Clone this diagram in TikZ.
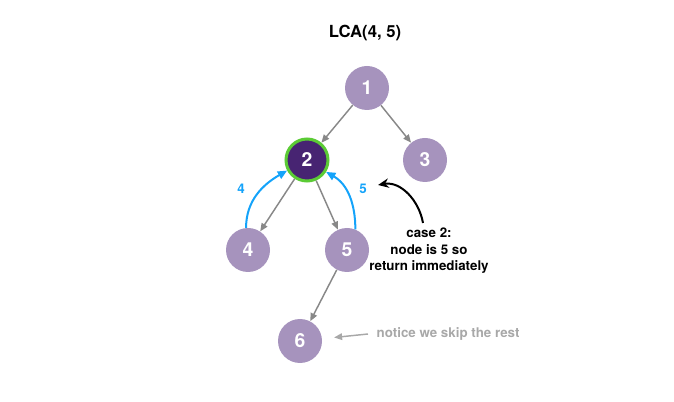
\documentclass[tikz,border=0pt]{standalone}
\usepackage{fontspec}
\setmainfont{TeX Gyre Heros}
\usepackage{tikz}
\usetikzlibrary{arrows.meta}

\definecolor{lav}{HTML}{A693BD}
\definecolor{deep}{HTML}{472472}
\definecolor{ring}{HTML}{5BCB35}
\definecolor{ret}{HTML}{14A3FA}
\definecolor{edge}{HTML}{888888}
\definecolor{note}{HTML}{A8A8A8}

\begin{document}
\begin{tikzpicture}[x=0.75pt,y=-0.75pt,
	vert/.style={circle,fill=lav,inner sep=0pt,minimum size=33pt,text=white,font=\fontsize{14.5}{15}\bfseries},
	tree/.style={draw=edge,line width=1.1pt,-{Triangle[length=6pt,width=5pt]}},
	back/.style={draw=ret,line width=1.5pt,-{Triangle[length=7pt,width=6pt]}},
	txt/.style={font=\fontsize{10}{12.4}\selectfont\bfseries,align=center}]
	\useasboundingbox (0,0) rectangle (674,402);
	\node[font=\fontsize{12.5}{14}\selectfont\bfseries] (title) at (365,33) {LCA(4, 5)};
	\node[vert] (n1) at (367,88) {1};
	\node[vert,fill=deep,draw=ring,line width=2.25pt,minimum size=31.5pt] (n2) at (307,160) {2};
	\node[vert] (n3) at (425,160) {3};
	\node[vert] (n4) at (248,250) {4};
	\node[vert] (n5) at (347,250) {5};
	\node[vert] (n6) at (300,341) {6};
	\draw[tree] (n1) -- (n2);
	\draw[tree] (n1) -- (n3);
	\draw[tree] (n2) -- (n4);
	\draw[tree] (n2) -- (n5);
	\draw[tree] (n5) -- (n6);
	\draw[back] (n4.95) to[out=90,in=210] (n2.208);
	\draw[back] (n5.68) to[out=90,in=-30] (n2.-32);
	\node[txt,text=ret] (l4) at (241,189) {4};
	\node[txt,text=ret] (l5) at (363,189) {5};
	\node[txt,text=black] (case) at (429,251) {case 2:\\node is 5 so\\return immediately};
	\coordinate (c0) at (423,223);
	\draw[line width=1.5pt,-{Stealth[length=8pt,width=7pt]}] (c0) to[out=100,in=10] (378,185);
	\node[txt,text=note,anchor=west] (skip) at (372,334) {notice we skip the rest};
	\draw[draw=note,line width=1.1pt,-{Triangle[length=6pt,width=5pt]},shorten >=9pt] (skip.west) ++(-4,0) coordinate (s0) (s0) -- (n6);
\end{tikzpicture}
\end{document}
